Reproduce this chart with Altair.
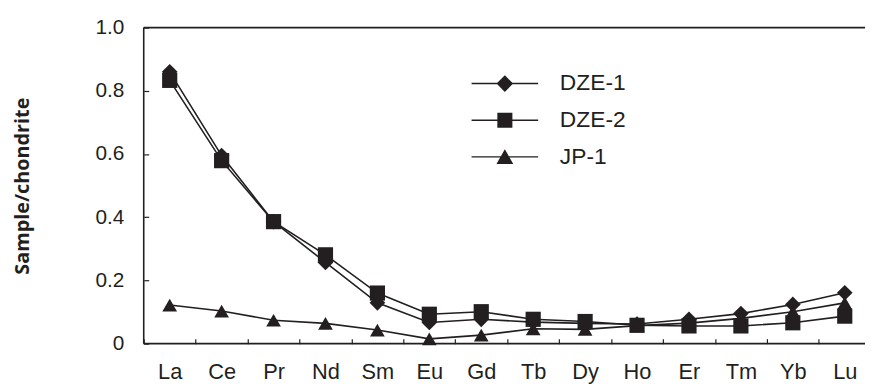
import altair as alt
import pandas as pd

elements = ["La", "Ce", "Pr", "Nd", "Sm", "Eu", "Gd", "Tb", "Dy", "Ho", "Er", "Tm", "Yb", "Lu"]
dze1 = [0.86, 0.595, 0.386, 0.257, 0.129, 0.067, 0.077, 0.068, 0.064, 0.062, 0.077, 0.095, 0.124, 0.161]
dze2 = [0.833, 0.579, 0.386, 0.281, 0.160, 0.093, 0.101, 0.077, 0.070, 0.058, 0.056, 0.056, 0.066, 0.087]
jp1 = [0.122, 0.103, 0.074, 0.064, 0.043, 0.015, 0.027, 0.047, 0.045, 0.057, 0.065, 0.080, 0.101, 0.129]
series = ["DZE-1", "DZE-2", "JP-1"]
y_ticks = [0, 0.2, 0.4, 0.6, 0.8, 1.0]

shapes = ["diamond", "square", "triangle-up"]
sizes = [250, 220, 270]
legend_paths = [
    "M-4.2,-0.09L4.2,-0.09L4.2,0.09L-4.2,0.09ZM0,-1.05L1.05,0L0,1.05L-1.05,0Z",
    "M-4.2,-0.09L4.2,-0.09L4.2,0.09L-4.2,0.09ZM-0.95,-0.95L0.95,-0.95L0.95,0.95L-0.95,0.95Z",
    "M-4.2,-0.09L4.2,-0.09L4.2,0.09L-4.2,0.09ZM0,-0.95L1.06,0.9L-1.06,0.9Z",
]

INK = "#231f20"
W, H = 728, 319
XMIN, XMAX = -0.5, 13.39
half = W / (XMAX - XMIN) / 2

rows = []
for name, vals in zip(series, [dze1, dze2, jp1]):
    for i, (el, v) in enumerate(zip(elements, vals)):
        rows.append({"idx": i, "element": el, "series": name, "value": v})
df = pd.DataFrame(rows)

label_expr = "[" + ",".join("'%s'" % e for e in elements) + "][datum.value]"

x_enc = alt.X(
    "idx:Q",
    scale=alt.Scale(domain=[XMIN, XMAX], nice=False, zero=False),
    axis=alt.Axis(
        values=list(range(len(elements))),
        labelExpr=label_expr,
        tickOffset=-half,
        labelOffset=half,
        offset=-5,
        tickSize=5,
        tickColor=INK,
        tickWidth=1.2,
        domain=False,
        grid=False,
        labelFontSize=22,
        labelBaseline="alphabetic",
        labelPadding=35.5,
        labelFlush=False,
        labelOverlap=False,
        labelBound=False,
        title=None,
    ),
)
y_enc = alt.Y(
    "value:Q",
    scale=alt.Scale(domain=[0, 1], nice=False),
    axis=alt.Axis(
        values=y_ticks,
        labelExpr="datum.value == 0 ? '0' : format(datum.value, '.1f')",
        offset=-5,
        tickSize=5,
        tickColor=INK,
        tickWidth=1.2,
        domain=False,
        grid=False,
        labelFontSize=21,
        labelPadding=20,
        title="Sample/chondrite",
        titleFont="Open Sans",
        titleFontWeight="bold",
        titleFontSize=20,
        titleColor=INK,
        titleX=-117,
    ),
)

base = alt.Chart(df)

lines = base.mark_line(color=INK, strokeWidth=1.6).encode(x=x_enc, y=y_enc, detail="series:N")

points = base.mark_point(filled=True, color=INK, opacity=1).encode(
    x=x_enc,
    y=y_enc,
    shape=alt.Shape("series:N", scale=alt.Scale(domain=series, range=shapes), legend=None),
    size=alt.Size("series:O", scale=alt.Scale(domain=series, range=sizes), legend=None),
)

legend_layer = base.transform_filter("false").mark_point(filled=True, color=INK, opacity=1).encode(
    x=x_enc,
    y=y_enc,
    shape=alt.Shape(
        "series:N",
        scale=alt.Scale(domain=series, range=legend_paths),
        legend=alt.Legend(
            orient="none",
            legendX=353,
            legendY=45,
            title=None,
            labelFont="Liberation Sans",
            labelFontSize=23,
            labelColor=INK,
            labelOffset=44,
            labelLimit=300,
            symbolSize=256,
            symbolFillColor=INK,
            rowPadding=13,
            padding=0,
        ),
    ),
)

x_line = alt.Chart().mark_rule(color=INK, strokeWidth=1.6).encode(y=alt.datum(0))
top_line = alt.Chart().mark_rule(color=INK, strokeWidth=1.6).encode(y=alt.datum(1.0))
y_line = alt.Chart().mark_rule(color=INK, strokeWidth=1.6).encode(x=alt.datum(XMIN))

chart = (
    alt.layer(lines, points, legend_layer, x_line, top_line, y_line)
    .resolve_scale(shape="independent", size="independent")
    .properties(
        width=W,
        height=H,
        padding={"left": 137, "top": 18, "right": 0, "bottom": 42},
        autosize=alt.AutoSizeParams(type="none"),
        background="white",
    )
    .configure_view(stroke=None)
    .configure_axis(labelFont="Liberation Sans", labelColor=INK)
)

chart.save("out.html", embed_options={"renderer": "svg", "actions": False})
